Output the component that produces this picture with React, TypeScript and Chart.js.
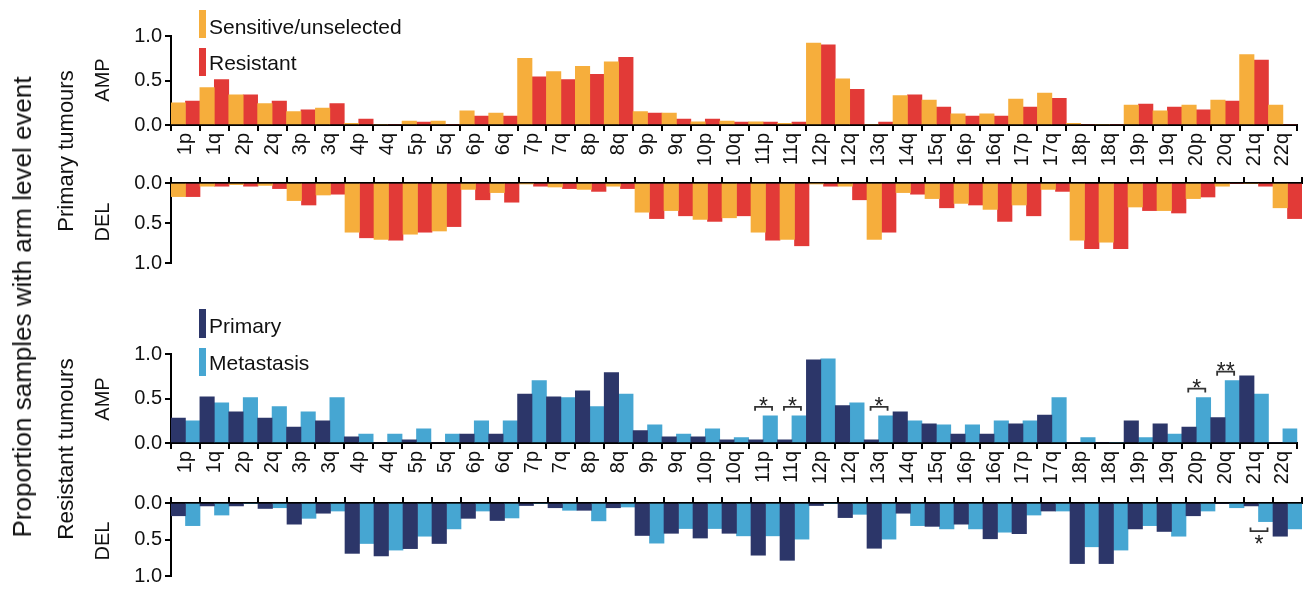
import React, { useEffect, useRef } from "react";
import { Chart, registerables } from "chart.js";
Chart.register(...registerables);

const FONT = "'Liberation Sans', Arial, Helvetica, sans-serif";

const arms = ["1p","1q","2p","2q","3p","3q","4p","4q","5p","5q","6p","6q","7p","7q","8p","8q","9p","9q","10p","10q","11p","11q","12p","12q","13q","14q","15q","16p","16q","17p","17q","18p","18q","19p","19q","20p","20q","21q","22q"];

// Primary tumours
const sensitiveAmp = [0.25,0.42,0.34,0.24,0.15,0.19,0.02,0,0.045,0.045,0.16,0.135, 0.75,0.60,0.66,0.71,0.15,0.135,0.035,0.045,0.035,0.02,0.92,0.52, 0,0.33,0.28, 0.125,0.125,0.29,0.36,0.02,0,0.225,0.16,0.225,0.28, 0.79,0.225];
const resistantAmp = [0.27,0.51,0.34,0.27,0.17,0.24,0.067,0,0.034,0,0.10,0.10, 0.54,0.51,0.57,0.76,0.135,0.067,0.067,0.034,0.034,0.034,0.90,0.40, 0.034,0.34,0.20, 0.10,0.10,0.20,0.30,0,0,0.235,0.20,0.17,0.27, 0.73,0];
const sensitiveDel = [0.17,0.04,0.02,0.03,0.22,0.15,0.615,0.705,0.64,0.60,0.08,0.12, 0.01,0.05,0.08,0.04,0.365,0.345,0.455,0.435,0.615,0.705,0.01,0.04, 0.705,0.12,0.195, 0.255,0.33,0.275,0.08,0.715,0.74,0.30,0.345,0.195,0.04, 0,0.31];
const resistantDel = [0.17,0.04,0.04,0.07,0.275,0.14,0.685,0.715,0.615,0.545,0.21,0.24, 0.04,0.07,0.105,0.07,0.445,0.41,0.48,0.41,0.715,0.785,0.04,0.21, 0.615,0.14,0.31, 0.275,0.48,0.41,0.105,0.82,0.82,0.345,0.375,0.175,0, 0.04,0.445];

// Resistant tumours
const primaryAmp = [0.28,0.52,0.35,0.28,0.18,0.25,0.07,0,0.035,0,0.10,0.10, 0.55,0.52,0.585,0.79,0.14,0.07,0.07,0.035,0.035,0.035,0.935,0.42, 0.035,0.35,0.215, 0.10,0.10,0.215,0.315,0,0,0.25,0.215,0.18,0.285, 0.755,0];
const metastasisAmp = [0.25,0.45,0.51,0.41,0.35,0.51,0.10,0.10,0.16,0.10,0.25,0.25, 0.70,0.51,0.41,0.55,0.205,0.10,0.16,0.06,0.305,0.305,0.945,0.45, 0.305,0.25,0.205, 0.205,0.25,0.25,0.51,0.06,0,0.06,0.10,0.51,0.70, 0.55,0.16];
const primaryDel = [0.175,0.04,0.04,0.075,0.29,0.14,0.69,0.725,0.625,0.555,0.21,0.24, 0.035,0.065,0.10,0.065,0.445,0.415,0.48,0.415,0.715,0.785,0.035,0.20, 0.62,0.14,0.32, 0.29,0.49,0.42,0.11,0.83,0.83,0.355,0.39,0.175,0, 0.04,0.455];
const metastasisDel = [0.31,0.165,0,0.065,0.21,0.11,0.555,0.645,0.455,0.355,0.11,0.205, 0,0.10,0.245,0.055,0.55,0.35,0.35,0.45,0.45,0.495,0,0.155, 0.495,0.31,0.355, 0.355,0.40,0.165,0.11,0.60,0.645,0.31,0.455,0.11,0.065, 0.255,0.355];

const ampSigArms = ["11p","11q","13q","20p","20q"];
const ampSigLabels = ["*","*","*","*","**"];
const delSigArms = ["21q"];
const delSigLabels = ["*"];

const C_SENS = "#F6AE3C";
const C_RES = "#E23A37";
const C_PRIM = "#2C3669";
const C_MET = "#46A6D2";

const AXIS_W = 171;
const RIGHT_PAD = 7;

type Panel = {
  top: number; height: number; padTop: number; padBottom: number; axisH: number;
  del: boolean; first: number[]; second: number[]; c1: string; c2: string; l1: string; l2: string;
  sigArms?: string[]; sigLabels?: string[];
};

const panels: Panel[] = [
  { top: 0, height: 168, padTop: 36, padBottom: 0, axisH: 43, del: false, first: sensitiveAmp, second: resistantAmp, c1: C_SENS, c2: C_RES, l1: "Sensitive/unselected", l2: "Resistant" },
  { top: 168, height: 110, padTop: 2, padBottom: 11, axisH: 8, del: true, first: sensitiveDel, second: resistantDel, c1: C_SENS, c2: C_RES, l1: "Sensitive/unselected", l2: "Resistant" },
  { top: 290, height: 198, padTop: 64, padBottom: 0, axisH: 45, del: false, first: primaryAmp, second: metastasisAmp, c1: C_PRIM, c2: C_MET, l1: "Primary", l2: "Metastasis", sigArms: ampSigArms, sigLabels: ampSigLabels },
  { top: 488, height: 103, padTop: 2, padBottom: 6, axisH: 6, del: true, first: primaryDel, second: metastasisDel, c1: C_PRIM, c2: C_MET, l1: "Primary", l2: "Metastasis", sigArms: delSigArms, sigLabels: delSigLabels },
];

function makeChart(canvas: HTMLCanvasElement, p: Panel) {
  const sigPlugin = {
    id: "sigBrackets",
    afterDatasetsDraw(chart: any) {
      if (!p.sigArms || !p.sigLabels) return;
      const ctx = chart.ctx;
      const xs = chart.scales.x;
      const ys = chart.scales.y;
      ctx.save();
      ctx.strokeStyle = "#333";
      ctx.lineWidth = 1.8;
      ctx.fillStyle = "#222";
      ctx.font = `23px ${FONT}`;
      ctx.textAlign = "center";
      ctx.textBaseline = "alphabetic";
      p.sigArms.forEach((arm, k) => {
        const i = arms.indexOf(arm);
        const xc = xs.getPixelForValue(i);
        const v = Math.max(p.first[i], p.second[i]);
        const yb = ys.getPixelForValue(v);
        const x0 = xc - 8, x1 = xc + 9;
        ctx.beginPath();
        if (!p.del) {
          ctx.moveTo(x0, yb - 5); ctx.lineTo(x0, yb - 9); ctx.lineTo(x1, yb - 9); ctx.lineTo(x1, yb - 5);
          ctx.stroke();
          ctx.fillText(p.sigLabels![k], (x0 + x1) / 2, yb - 2);
        } else {
          ctx.moveTo(x0, yb + 6); ctx.lineTo(x0, yb + 9.5); ctx.lineTo(x1, yb + 9.5); ctx.lineTo(x1, yb + 6);
          ctx.stroke();
          ctx.fillText(p.sigLabels![k], (x0 + x1) / 2, yb + 30);
        }
      });
      ctx.restore();
    },
  };

  return new Chart(canvas, {
    type: "bar",
    data: {
      labels: arms,
      datasets: [
        { label: p.l1, data: p.first, backgroundColor: p.c1, borderWidth: 0, barPercentage: 1, categoryPercentage: 1 },
        { label: p.l2, data: p.second, backgroundColor: p.c2, borderWidth: 0, barPercentage: 1, categoryPercentage: 1 },
      ],
    },
    options: {
      animation: false,
      responsive: false,
      maintainAspectRatio: false,
      layout: { padding: { left: 0, right: RIGHT_PAD, top: p.padTop, bottom: p.padBottom } },
      plugins: { legend: { display: false }, tooltip: { enabled: false }, title: { display: false } },
      scales: {
        x: {
          type: "category",
          position: p.del ? "top" : "bottom",
          offset: true,
          grid: { offset: true, drawOnChartArea: false, drawTicks: true, tickLength: 6, color: "#000", lineWidth: 2 },
          border: { display: true, color: "#000", width: 2 },
          ticks: {
            display: !p.del, autoSkip: false, maxRotation: 90, minRotation: 90, padding: 2,
            color: "#111", font: { family: FONT, size: 20 },
          },
          afterFit: (s: any) => { s.height = p.axisH; },
        },
        y: {
          min: 0, max: 1, reverse: p.del,
          ticks: { stepSize: 0.5, callback: (v: any) => Number(v).toFixed(1), padding: 3, color: "#111", font: { family: FONT, size: 20 } },
          grid: { drawOnChartArea: false, drawTicks: true, tickLength: 6, color: "#000", lineWidth: 2 },
          border: { display: true, color: "#000", width: 2 },
          afterFit: (s: any) => { s.width = AXIS_W; },
        },
      },
    } as any,
    plugins: [sigPlugin],
  });
}

function RotText({ x, y, size, children }: { x: number; y: number; size: number; children: React.ReactNode }) {
  return (
    <div style={{ position: "absolute", left: x, top: y, transform: "translate(-50%, -50%) rotate(-90deg)", whiteSpace: "nowrap", fontFamily: FONT, fontSize: size, lineHeight: 1, color: "#111" }}>
      {children}
    </div>
  );
}

function LegendItem({ color, top, h, text, textY }: { color: string; top: number; h: number; text: string; textY: number }) {
  return (
    <>
      <div style={{ position: "absolute", left: 199, top, width: 7, height: h, background: color }} />
      <div style={{ position: "absolute", left: 209, top: textY, transform: "translateY(-50%)", whiteSpace: "nowrap", fontFamily: FONT, fontSize: 21, lineHeight: 1, color: "#111" }}>{text}</div>
    </>
  );
}

export default function App() {
  const refs = [useRef<HTMLCanvasElement>(null), useRef<HTMLCanvasElement>(null), useRef<HTMLCanvasElement>(null), useRef<HTMLCanvasElement>(null)];
  useEffect(() => {
    const charts = panels.map((p, i) => makeChart(refs[i].current as HTMLCanvasElement, p));
    return () => charts.forEach((c) => c.destroy());
  }, []);
  return (
    <div style={{ position: "absolute", left: 0, top: 0, width: 1309, height: 591, background: "#fff", overflow: "hidden" }}>
      {panels.map((p, i) => (
        <canvas key={i} ref={refs[i]} width={1309} height={p.height} style={{ position: "absolute", left: 0, top: p.top, width: 1309, height: p.height, display: "block" }} />
      ))}
      <RotText x={22} y={307} size={26}>Proportion samples with arm level event</RotText>
      <RotText x={66} y={151} size={22}>Primary tumours</RotText>
      <RotText x={66} y={449} size={22.5}>Resistant tumours</RotText>
      <RotText x={102} y={80} size={20}>AMP</RotText>
      <RotText x={102} y={222} size={20}>DEL</RotText>
      <RotText x={102} y={399} size={20}>AMP</RotText>
      <RotText x={102} y={541} size={20}>DEL</RotText>
      <LegendItem color={C_SENS} top={10} h={28} text="Sensitive/unselected" textY={26} />
      <LegendItem color={C_RES} top={48} h={28} text="Resistant" textY={62} />
      <LegendItem color={C_PRIM} top={309} h={29} text="Primary" textY={325} />
      <LegendItem color={C_MET} top={348} h={28} text="Metastasis" textY={362} />
    </div>
  );
}
